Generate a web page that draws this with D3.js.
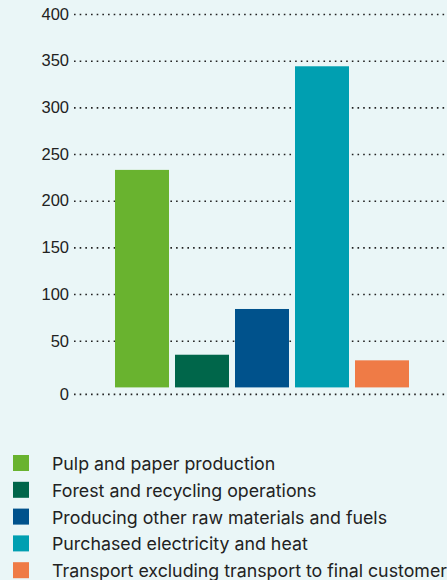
<!DOCTYPE html>
<html>
<head>
<meta charset="utf-8">
<script src="https://cdn.jsdelivr.net/npm/d3@7"></script>
<style>
  body { margin: 0; background: #eaf6f7; }
  svg { display: block; font-family: Inter, "Noto Sans", sans-serif; }
</style>
</head>
<body>
<div id="chart"></div>
<script>
// data
var categories = [
  "Pulp and paper production",
  "Forest and recycling operations",
  "Producing other raw materials and fuels",
  "Purchased electricity and heat",
  "Transport excluding transport to final customer"
];
var values = [233, 35, 84, 344, 29];
var colors = ["#69b32f", "#00664a", "#00528c", "#009fb1", "#ef7b46"];
var yTicks = [0, 50, 100, 150, 200, 250, 300, 350, 400];

var svgWidth = 447, svgHeight = 580;

var svg = d3.select("#chart")
  .append("svg")
  .attr("width", svgWidth)
  .attr("height", svgHeight);

// plot area
var plotTop = 14, plotBottom = 387.4, plotLeft = 74, plotRight = 447;

var yScale = d3.scaleLinear()
  .domain([0, 400])
  .range([plotBottom, plotTop]);

var xScale = d3.scaleBand()
  .domain(categories)
  .range([112, 412])
  .paddingInner(0.1)
  .paddingOuter(0.05);

// gridlines + tick labels
var yAxis = d3.axisLeft(yScale)
  .tickValues(yTicks)
  .tickSize(-(plotRight - plotLeft))
  .tickPadding(5);

var axisG = svg.append("g")
  .attr("transform", `translate(${plotLeft}, 0)`)
  .call(yAxis);

axisG.select(".domain").remove();
axisG.selectAll(".tick line")
  .attr("stroke", "#222")
  .attr("stroke-width", 1.6)
  .attr("stroke-dasharray", "1.6 4.07");
axisG.selectAll(".tick text")
  .attr("fill", "#222")
  .style("font-size", "16.5px");

// the zero line sits a little below the bar base
axisG.selectAll(".tick")
  .filter(d => d === 0)
  .attr("transform", `translate(0, ${yScale(0) + 7})`);

// bars
svg.append("g")
  .selectAll("rect")
  .data(values)
  .enter()
  .append("rect")
  .attr("x", (d, i) => xScale(categories[i]))
  .attr("y", d => yScale(d))
  .attr("width", xScale.bandwidth())
  .attr("height", d => yScale(0) - yScale(d))
  .attr("fill", (d, i) => colors[i]);

// legend
var legend = svg.append("g")
  .attr("transform", "translate(13, 455)");

var rows = legend.selectAll("g")
  .data(categories)
  .enter()
  .append("g")
  .attr("transform", (d, i) => `translate(0, ${i * 26.8})`);

rows.append("rect")
  .attr("width", 16)
  .attr("height", 16)
  .attr("fill", (d, i) => colors[i]);

rows.append("text")
  .attr("x", 39)
  .attr("y", 15)
  .attr("fill", "#222")
  .style("font-size", "17.8px")
  .text(d => d);
</script>
</body>
</html>
